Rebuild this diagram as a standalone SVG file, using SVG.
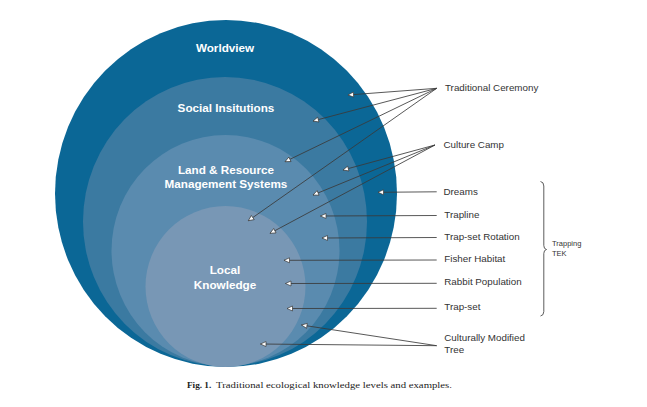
<svg xmlns="http://www.w3.org/2000/svg" width="647" height="407" viewBox="0 0 647 407">
<style>
.lvl{font-family:"Liberation Sans",Arial,sans-serif;font-weight:bold;font-size:11.7px;fill:#ffffff;text-anchor:middle}
.lbl{font-family:"Liberation Sans",Arial,sans-serif;font-size:9.8px;fill:#333333}
.small{font-family:"Liberation Sans",Arial,sans-serif;font-size:7.5px;fill:#333333}
.cap{font-family:"Liberation Serif","Times New Roman",serif;font-size:9.2px;fill:#222222}
.conn line{stroke:#3a3a3a;stroke-width:0.85;marker-end:url(#tri)}
</style>
<defs>
<marker id="tri" markerUnits="userSpaceOnUse" markerWidth="8" markerHeight="8" refX="5.5" refY="2.5" orient="auto" viewBox="-1 -1 8 7">
<path d="M0,0 L5.5,2.5 L0,5 Z" fill="#ffffff" stroke="#3a3a3a" stroke-width="0.7"/>
</marker>
</defs>
<rect width="647" height="407" fill="#ffffff"/>
<g id="worldview">
<ellipse cx="226" cy="193.5" rx="171" ry="173.5" fill="#0b6796"/>
<text class="lvl" x="225" y="52">Worldview</text>
</g>
<g id="social-institutions">
<ellipse cx="225" cy="221.5" rx="142" ry="144.5" fill="#3b7aa1"/>
<text class="lvl" x="226" y="112">Social Insitutions</text>
</g>
<g id="land-resource">
<ellipse cx="225.5" cy="250.5" rx="114" ry="115.5" fill="#5a8baf"/>
<text class="lvl" x="226" y="174">Land &amp; Resource</text>
<text class="lvl" x="226" y="187.5">Management Systems</text>
</g>
<g id="local-knowledge">
<ellipse cx="225.5" cy="286.5" rx="80" ry="80.5" fill="#7897b5"/>
<text class="lvl" x="225" y="274">Local</text>
<text class="lvl" x="225" y="288.7">Knowledge</text>
</g>
<g class="conn" id="connectors">
<line x1="436.7" y1="88.3" x2="348" y2="95"/>
<line x1="436.7" y1="88.3" x2="313" y2="121"/>
<line x1="436.7" y1="88.3" x2="285" y2="161.7"/>
<line x1="436.7" y1="88.3" x2="248.3" y2="220.7"/>
<line x1="435" y1="145" x2="343" y2="170"/>
<line x1="435" y1="145" x2="313" y2="195"/>
<line x1="435" y1="145" x2="270" y2="233.3"/>
<line x1="436.7" y1="191.8" x2="378" y2="192.3"/>
<line x1="436.7" y1="215.5" x2="320.5" y2="216"/>
<line x1="436.7" y1="237.5" x2="322" y2="238"/>
<line x1="436.7" y1="260" x2="284" y2="260.3"/>
<line x1="436.7" y1="283.3" x2="285.5" y2="283.5"/>
<line x1="436.7" y1="308.3" x2="287" y2="308.5"/>
<line x1="436.7" y1="345.7" x2="301.5" y2="325"/>
<line x1="436.7" y1="345.7" x2="260.5" y2="344"/>
</g>
<g id="traditional-ceremony"><text class="lbl" x="445" y="91">Traditional Ceremony</text></g>
<g id="culture-camp"><text class="lbl" x="443.5" y="147.5">Culture Camp</text></g>
<g id="dreams"><text class="lbl" x="443.5" y="194.5">Dreams</text></g>
<g id="trapline"><text class="lbl" x="444.3" y="217.5">Trapline</text></g>
<g id="trap-set-rotation"><text class="lbl" x="444.3" y="240">Trap-set Rotation</text></g>
<g id="fisher-habitat"><text class="lbl" x="444.3" y="262.3">Fisher Habitat</text></g>
<g id="rabbit-population"><text class="lbl" x="444.3" y="285.3">Rabbit Population</text></g>
<g id="trap-set"><text class="lbl" x="444.3" y="310.3">Trap-set</text></g>
<g id="culturally-modified-tree">
<text class="lbl" x="444.3" y="341">Culturally Modified</text>
<text class="lbl" x="444.3" y="353.3">Tree</text>
</g>
<g id="trapping-tek">
<path d="M540.5,181.5 Q543.8,182 543.8,186 L543.8,245.5 Q543.8,249 546.5,249.5 Q543.8,250 543.8,253.5 L543.8,311.5 Q543.8,315.5 540.5,316" fill="none" stroke="#333333" stroke-width="0.8"/>
<text class="small" x="552" y="245.5">Trapping</text>
<text class="small" x="552" y="256">TEK</text>
</g>
<g id="caption">
<text class="cap" x="187" y="388" font-weight="bold">Fig. 1.</text>
<text class="cap" x="216" y="388" textLength="236" lengthAdjust="spacingAndGlyphs">Traditional ecological knowledge levels and examples.</text>
</g>
</svg>
